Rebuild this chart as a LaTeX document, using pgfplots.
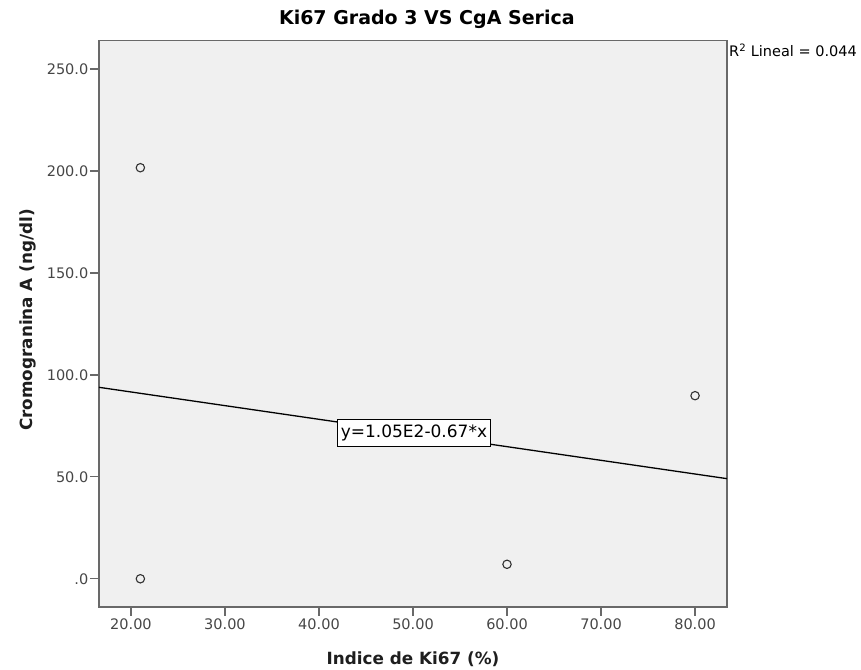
\documentclass[border=0pt]{standalone}
\usepackage{fontspec}
\setmainfont{DejaVu Sans}
\usepackage{pgfplots}
\pgfplotsset{compat=1.18}
\definecolor{plotbg}{RGB}{240,240,240}
\definecolor{framegray}{RGB}{105,105,105}
\definecolor{ticktext}{RGB}{70,70,70}
\definecolor{markgray}{RGB}{50,50,50}

\begin{document}
\begin{tikzpicture}
\begin{axis}[
    scale only axis, width=628pt, height=566pt,
    xmin=16.6, xmax=83.4, ymin=-13.7, ymax=263.9,
    clip=false,
    axis background/.style={fill=plotbg},
    axis line style={framegray, line width=1.6pt},
    xtick={20,30,...,80},
    xticklabels={20.00,30.00,40.00,50.00,60.00,70.00,80.00},
    ytick={0,50,...,250},
    yticklabels={.0,50.0,100.0,150.0,200.0,250.0},
    xtick pos=lower, ytick pos=left,
    tick align=outside, major tick length=9pt,
    tick style={framegray, line width=1.3pt},
    ticklabel style={font=\fontsize{14.5}{17}\selectfont, text=ticktext},
    yticklabel style={inner sep=1.5pt},
    title={Ki67 Grado 3 VS CgA Serica},
    title style={at={(axis description cs:0.522,1)}, anchor=base, yshift=10pt,
                 font=\bfseries\fontsize{19}{22}\selectfont},
    xlabel={Indice de Ki67 (\%)},
    xlabel style={at={(axis description cs:0.5,0)}, anchor=base, yshift=-58pt,
                  font=\bfseries\fontsize{16.8}{20}\selectfont, text={rgb,255:red,30;green,30;blue,30}},
    ylabel={Cromogranina A (ng/dl)},
    ylabel style={at={(axis description cs:-0.1051,0.5068)}, anchor=base,
                  font=\bfseries\fontsize{16.8}{20}\selectfont, text={rgb,255:red,30;green,30;blue,30}},
]
% regression line y = 1.05E2 - 0.67x over the axis range
\addplot[black, line width=1.3pt] coordinates {(16.6,93.9) (83.4,49.1)};
% observations
\addplot[only marks, mark=o, mark size=4.2pt, mark options={markgray, line width=1.1pt}]
  coordinates {(21,201.6) (21,0) (60,7.1) (80,89.8)};
\node[draw=black, fill=white, line width=1pt, inner xsep=3.5pt, inner ysep=5pt,
      font=\fontsize{17}{20}\selectfont] at (axis cs:50.1,71.5) {y=1.05E2-0.67*x};
\node[anchor=base west, inner sep=0pt, xshift=2pt, font=\fontsize{14.5}{17}\selectfont]
  at (rel axis cs:1,0.9717) {R\textsuperscript{2} Lineal = 0.044};
\end{axis}
\pgfresetboundingbox
\useasboundingbox (-99pt,-62.3pt) rectangle (762pt,606.7pt);
\end{tikzpicture}
\end{document}
